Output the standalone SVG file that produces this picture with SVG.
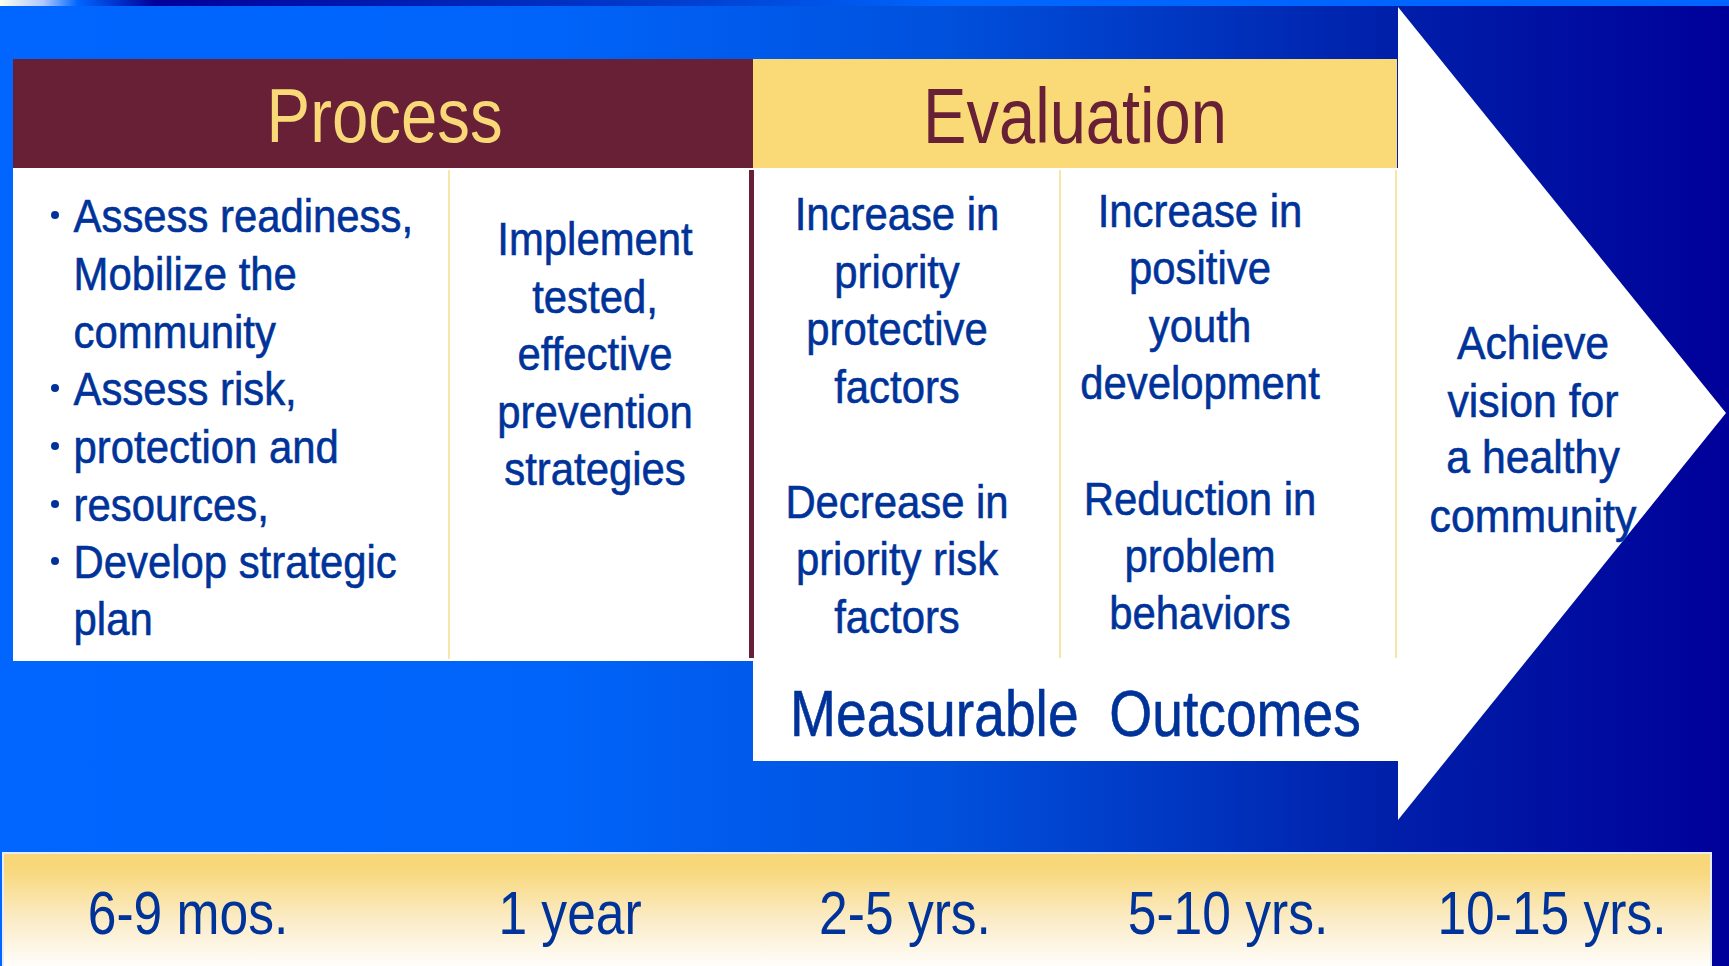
<svg xmlns="http://www.w3.org/2000/svg" width="1729" height="966" viewBox="0 0 1729 966">
  <defs>
    <linearGradient id="bg" x1="0" y1="0" x2="1729" y2="0" gradientUnits="userSpaceOnUse">
      <stop offset="0" stop-color="#0066FF"/>
      <stop offset="0.32" stop-color="#0064FA"/>
      <stop offset="0.55" stop-color="#0050DC"/>
      <stop offset="0.8" stop-color="#0020AA"/>
      <stop offset="1" stop-color="#000099"/>
    </linearGradient>
    <linearGradient id="stripe" x1="0" y1="0" x2="1729" y2="0" gradientUnits="userSpaceOnUse">
      <stop offset="0" stop-color="#FFFFF0"/>
      <stop offset="0.025" stop-color="#B0C8FF"/>
      <stop offset="0.045" stop-color="#0066FF"/>
      <stop offset="0.09" stop-color="#000099"/>
      <stop offset="0.4" stop-color="#0040D0"/>
      <stop offset="0.55" stop-color="#0066FF"/>
      <stop offset="1" stop-color="#0066FF"/>
    </linearGradient>
    <linearGradient id="tl" x1="0" y1="853" x2="0" y2="970" gradientUnits="userSpaceOnUse">
      <stop offset="0" stop-color="#F7D676"/>
      <stop offset="0.15" stop-color="#F8D87C"/>
      <stop offset="0.55" stop-color="#FBEBC4"/>
      <stop offset="1" stop-color="#FFFFFF"/>
    </linearGradient>
    <style>
      text { font-family: "Liberation Sans", Arial, sans-serif; }
      .body { font-size: 47px; fill: #003399; stroke: #003399; stroke-width: 0.6px; }
      .mid { text-anchor: middle; }
      .title { font-size: 76px; text-anchor: middle; }
      .tl { font-size: 61px; fill: #003399; text-anchor: middle; }
      .div { stroke: #F6DC8C; stroke-width: 1.5; }
    </style>
  </defs>

  <!-- background -->
  <rect x="0" y="0" width="1729" height="966" fill="url(#bg)"/>
  <rect x="0" y="0" width="1729" height="6" fill="url(#stripe)"/>

  <!-- arrow shape -->
  <g id="arrow">
    <polygon points="1398,7 1726,413 1398,820" fill="#FFFFFF"/>
    <rect x="753" y="168" width="646" height="593" fill="#FFFFFF"/>
  </g>

  <g id="connectors"></g>

  <!-- Process header -->
  <g id="process-header">
    <rect x="13" y="59" width="740" height="109" fill="#682036"/>
    <g transform="translate(384.6 0) scale(0.86 1)">
      <text class="title" x="0" y="142" fill="#F9D977">Process</text>
    </g>
  </g>

  <!-- Evaluation header -->
  <g id="evaluation-header">
    <rect x="753" y="59" width="644" height="109" fill="#F9DA77"/>
    <g transform="translate(1075 0) scale(0.845 1)">
      <text class="title" x="0" y="143" fill="#682036" style="font-size:77px">Evaluation</text>
    </g>
  </g>

  <!-- Process body -->
  <g id="process-body">
    <rect x="13" y="168" width="740" height="493" fill="#FFFFFF"/>
    <line class="div" x1="449" y1="170" x2="449" y2="659"/>
    <rect x="749" y="170" width="5" height="488" fill="#682036"/>
  </g>

  <g id="col-assess">
    <g fill="#003399">
      <circle cx="55" cy="215" r="4"/>
      <circle cx="55" cy="388" r="4"/>
      <circle cx="55" cy="446" r="4"/>
      <circle cx="55" cy="504" r="4"/>
      <circle cx="55" cy="561" r="4"/>
    </g>
    <g transform="translate(73.6 0) scale(0.89 1)">
      <text class="body" x="0" y="232">Assess readiness,</text>
      <text class="body" x="0" y="290">Mobilize the</text>
      <text class="body" x="0" y="348">community</text>
      <text class="body" x="0" y="405">Assess risk,</text>
      <text class="body" x="0" y="463">protection and</text>
      <text class="body" x="0" y="521">resources,</text>
      <text class="body" x="0" y="578">Develop strategic</text>
      <text class="body" x="0" y="635">plan</text>
    </g>
  </g>

  <g id="col-implement">
    <g transform="translate(595 0) scale(0.89 1)">
      <text class="body mid" x="0" y="255">Implement</text>
      <text class="body mid" x="0" y="313">tested,</text>
      <text class="body mid" x="0" y="370">effective</text>
      <text class="body mid" x="0" y="428">prevention</text>
      <text class="body mid" x="0" y="485">strategies</text>
    </g>
  </g>

  <!-- Evaluation body -->
  <g id="evaluation-body">
    <line class="div" x1="1060" y1="170" x2="1060" y2="658"/>
    <line class="div" x1="1396" y1="170" x2="1396" y2="658"/>
  </g>

  <g id="col-factors">
    <g transform="translate(897 0) scale(0.89 1)">
      <text class="body mid" x="0" y="230">Increase in</text>
      <text class="body mid" x="0" y="288">priority</text>
      <text class="body mid" x="0" y="345">protective</text>
      <text class="body mid" x="0" y="403">factors</text>
      <text class="body mid" x="0" y="518">Decrease in</text>
      <text class="body mid" x="0" y="575">priority risk</text>
      <text class="body mid" x="0" y="633">factors</text>
    </g>
  </g>

  <g id="col-youth">
    <g transform="translate(1200 0) scale(0.89 1)">
      <text class="body mid" x="0" y="227">Increase in</text>
      <text class="body mid" x="0" y="284">positive</text>
      <text class="body mid" x="0" y="342">youth</text>
      <text class="body mid" x="0" y="399">development</text>
      <text class="body mid" x="0" y="515">Reduction in</text>
      <text class="body mid" x="0" y="572">problem</text>
      <text class="body mid" x="0" y="629">behaviors</text>
    </g>
  </g>

  <g id="measurable-outcomes">
    <g transform="translate(1075.5 0) scale(0.863 1)">
      <text class="body mid" x="0" y="736" style="font-size:64px">Measurable&#160; Outcomes</text>
    </g>
  </g>

  <g id="vision">
    <g transform="translate(1533 0) scale(0.93 1)">
      <text class="body mid" x="0" y="359" style="font-size:46px">Achieve</text>
      <text class="body mid" x="0" y="417" style="font-size:46px">vision for</text>
      <text class="body mid" x="0" y="473" style="font-size:46px">a healthy</text>
      <text class="body mid" x="0" y="532" style="font-size:46px">community</text>
    </g>
  </g>

  <!-- Timeline -->
  <g id="timeline">
    <rect x="3" y="853" width="1708" height="130" fill="url(#tl)" stroke="#E4ECFF" stroke-width="2"/>
    <g transform="translate(188 0) scale(0.845 1)"><text class="tl" x="0" y="934">6-9 mos.</text></g>
    <g transform="translate(570 0) scale(0.845 1)"><text class="tl" x="0" y="934">1 year</text></g>
    <g transform="translate(905 0) scale(0.845 1)"><text class="tl" x="0" y="934">2-5 yrs.</text></g>
    <g transform="translate(1228 0) scale(0.845 1)"><text class="tl" x="0" y="934">5-10 yrs.</text></g>
    <g transform="translate(1552 0) scale(0.845 1)"><text class="tl" x="0" y="934">10-15 yrs.</text></g>
  </g>
</svg>
